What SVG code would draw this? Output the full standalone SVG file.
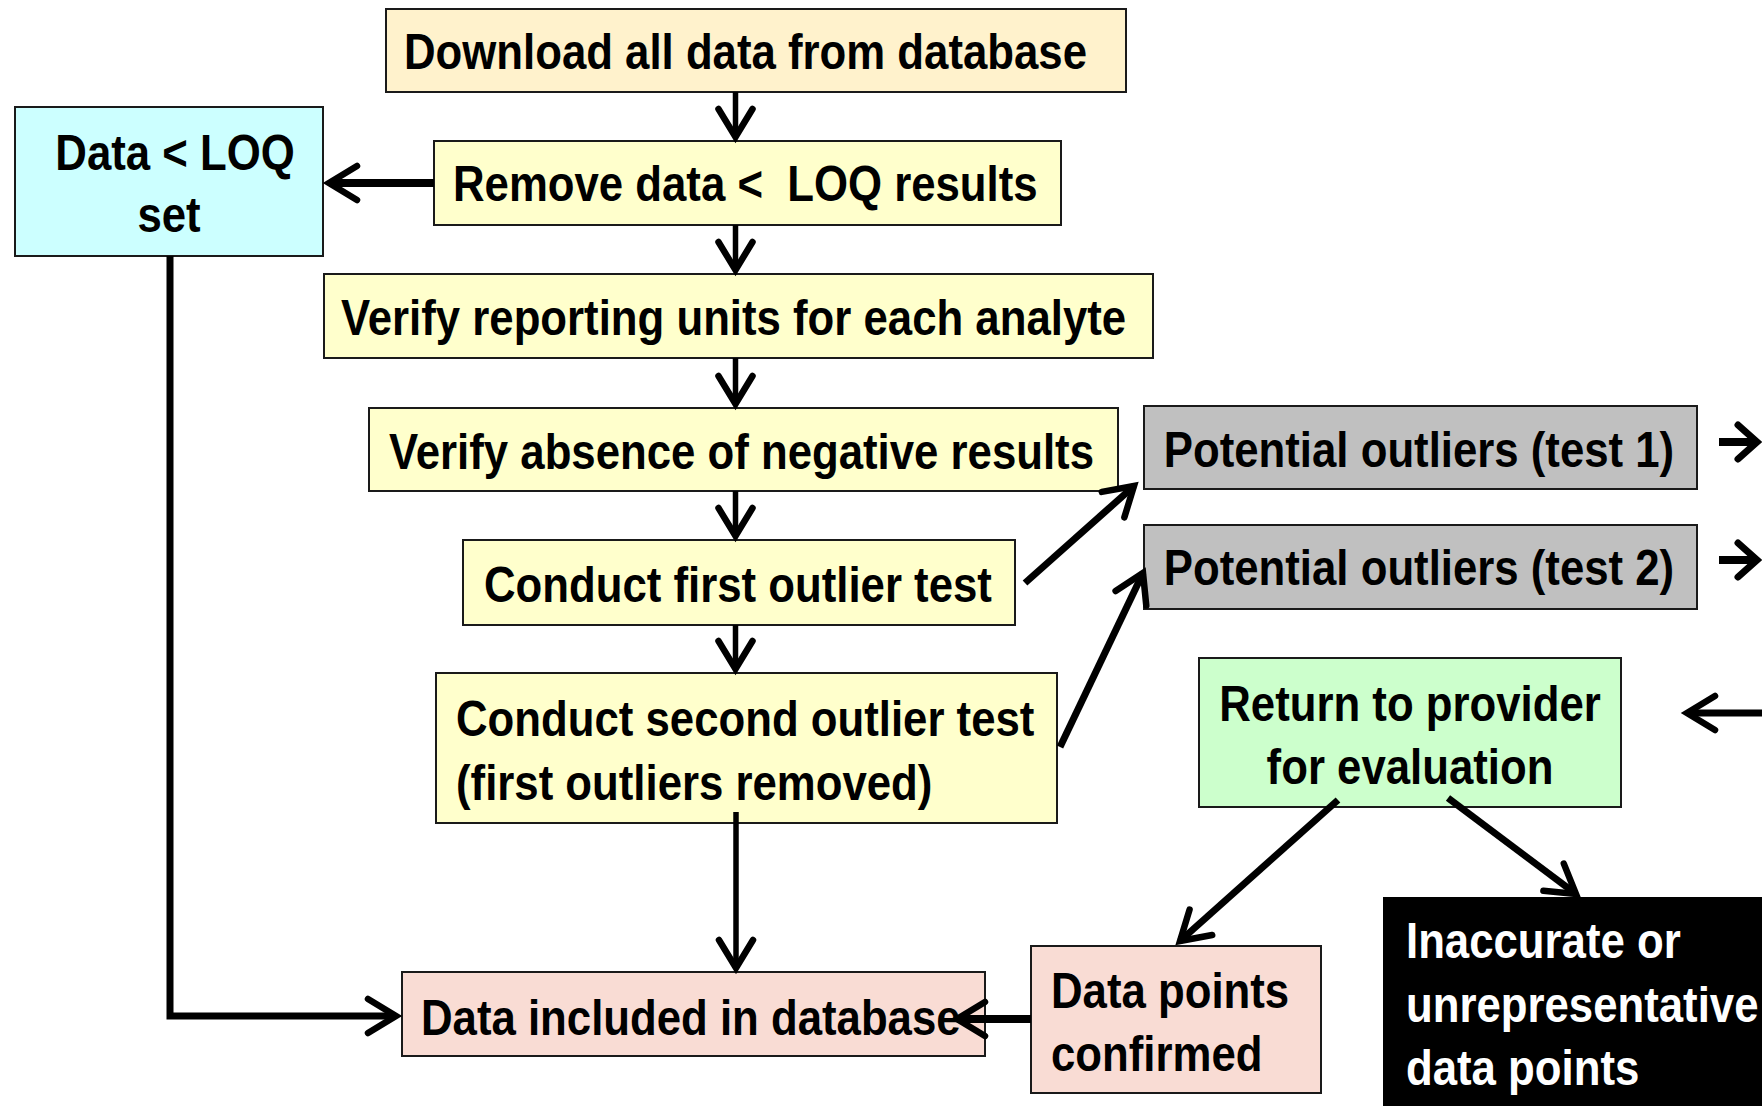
<svg xmlns="http://www.w3.org/2000/svg" width="1762" height="1106" viewBox="0 0 1762 1106">
<style>
  .box { stroke: #1a1a1a; stroke-width: 2; }
  .t { font-family: "Liberation Sans", Arial, sans-serif; font-weight: bold; font-size: 50px; fill: #000; }
  .w { fill: #fff; }
  .c { text-anchor: middle; }
  .ln { fill: none; stroke: #000; stroke-linecap: butt; }
  .y { fill: #FFFFCC; }
</style>
<defs>
  <marker id="ah" viewBox="-34 -22 40 44" refX="0" refY="0" markerWidth="40" markerHeight="44" markerUnits="userSpaceOnUse" orient="auto" overflow="visible">
    <path d="M-28,-17 L0,0 L-28,17" fill="none" stroke="#000" stroke-width="6.5" stroke-linecap="round" stroke-linejoin="miter"/>
  </marker>
  <marker id="ahs" viewBox="-26 -22 32 44" refX="0" refY="0" markerWidth="32" markerHeight="44" markerUnits="userSpaceOnUse" orient="auto" overflow="visible">
    <path d="M-19,-17 L0,0 L-19,17" fill="none" stroke="#000" stroke-width="7" stroke-linecap="round" stroke-linejoin="miter"/>
  </marker>
</defs>
<rect width="1762" height="1106" fill="#fff"/>

<g id="n-download">
  <rect class="box" x="386" y="9" width="740" height="83" fill="#FFF2CC"/>
  <text class="t" transform="translate(404,69) scale(0.875,1)">Download all data from database</text>
</g>
<g id="n-loqset">
  <rect class="box" x="15" y="107" width="308" height="149" fill="#CCFFFF"/>
  <text class="t c" transform="translate(175,170) scale(0.875,1)">Data &lt; LOQ</text>
  <text class="t c" transform="translate(169,232) scale(0.875,1)">set</text>
</g>
<g id="n-remove">
  <rect class="box y" x="434" y="141" width="627" height="84"/>
  <text class="t" transform="translate(453,201) scale(0.875,1)" xml:space="preserve">Remove data &lt;  LOQ results</text>
</g>
<g id="n-units">
  <rect class="box y" x="324" y="274" width="829" height="84"/>
  <text class="t" transform="translate(341,335) scale(0.875,1)">Verify reporting units for each analyte</text>
</g>
<g id="n-negative">
  <rect class="box y" x="369" y="408" width="749" height="83"/>
  <text class="t" transform="translate(389,469) scale(0.875,1)">Verify absence of negative results</text>
</g>
<g id="n-first">
  <rect class="box y" x="463" y="540" width="552" height="85"/>
  <text class="t" transform="translate(484,602) scale(0.875,1)">Conduct first outlier test</text>
</g>
<g id="n-second">
  <rect class="box y" x="436" y="673" width="621" height="150"/>
  <text class="t" transform="translate(456,736) scale(0.875,1)">Conduct second outlier test</text>
  <text class="t" transform="translate(456,800) scale(0.875,1)">(first outliers removed)</text>
</g>
<g id="n-pot1">
  <rect class="box" x="1144" y="406" width="553" height="83" fill="#C0C0C0"/>
  <text class="t c" transform="translate(1419,467) scale(0.875,1)">Potential outliers (test 1)</text>
</g>
<g id="n-pot2">
  <rect class="box" x="1144" y="525" width="553" height="84" fill="#C0C0C0"/>
  <text class="t c" transform="translate(1419,585) scale(0.875,1)">Potential outliers (test 2)</text>
</g>
<g id="n-return">
  <rect class="box" x="1199" y="658" width="422" height="149" fill="#CCFFCC"/>
  <text class="t c" transform="translate(1410,721) scale(0.875,1)">Return to provider</text>
  <text class="t c" transform="translate(1410,784) scale(0.875,1)">for evaluation</text>
</g>
<g id="n-included">
  <rect class="box" x="402" y="972" width="583" height="84" fill="#F9DCD4"/>
  <text class="t" transform="translate(421,1035) scale(0.875,1)">Data included in database</text>
</g>
<g id="n-confirmed">
  <rect class="box" x="1031" y="946" width="290" height="147" fill="#F9DCD4"/>
  <text class="t" transform="translate(1051,1008) scale(0.875,1)">Data points</text>
  <text class="t" transform="translate(1051,1071) scale(0.875,1)">confirmed</text>
</g>
<g id="n-inaccurate">
  <rect x="1383" y="897" width="390" height="220" fill="#000"/>
  <text class="t w" transform="translate(1406,958) scale(0.875,1)">Inaccurate or</text>
  <text class="t w" transform="translate(1406,1022) scale(0.875,1)">unrepresentative</text>
  <text class="t w" transform="translate(1406,1085) scale(0.875,1)">data points</text>
</g>

<g id="connectors">
  <path class="ln" stroke-width="5.5" d="M735.5,92 V137" marker-end="url(#ah)"/>
  <path class="ln" stroke-width="8" d="M434,183 H329" marker-end="url(#ah)"/>
  <path class="ln" stroke-width="5.5" d="M735.5,225 V270" marker-end="url(#ah)"/>
  <path class="ln" stroke-width="5.5" d="M735.5,358 V404" marker-end="url(#ah)"/>
  <path class="ln" stroke-width="5.5" d="M735.5,491 V536" marker-end="url(#ah)"/>
  <path class="ln" stroke-width="5.5" d="M735.5,625 V669" marker-end="url(#ah)"/>
  <path class="ln" stroke-width="5.5" d="M736,812 V968" marker-end="url(#ah)"/>
  <path class="ln" stroke-width="7" d="M170,256 V1016 H396" marker-end="url(#ah)"/>
  <path class="ln" stroke-width="8" d="M1031,1019 H957" marker-end="url(#ah)"/>
  <path class="ln" stroke-width="7" d="M1025,583 L1134,486" marker-end="url(#ah)"/>
  <path class="ln" stroke-width="7" d="M1060,747 L1143,573" marker-end="url(#ah)"/>
  <path class="ln" stroke-width="7" d="M1338,800 L1180,941" marker-end="url(#ah)"/>
  <path class="ln" stroke-width="7" d="M1448,798 L1576,894" marker-end="url(#ah)"/>
  <path class="ln" stroke-width="8" d="M1719,442 H1757" marker-end="url(#ahs)"/>
  <path class="ln" stroke-width="8" d="M1719,560 H1757" marker-end="url(#ahs)"/>
  <path class="ln" stroke-width="7" d="M1762,713 H1687" marker-end="url(#ah)"/>
</g>
</svg>
